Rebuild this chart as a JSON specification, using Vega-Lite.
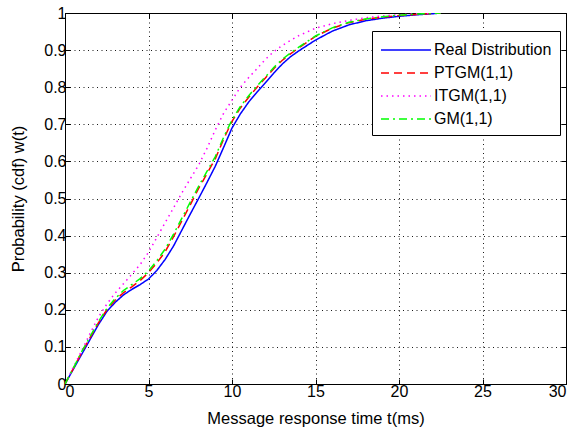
{
  "$schema": "https://vega.github.io/schema/vega-lite/v6.json",
  "autosize": "none",
  "width": 501,
  "height": 371,
  "padding": {"left": 65, "top": 13, "right": 9, "bottom": 51},
  "background": "white",
  "data": {"values": [
    {"s":"Real Distribution","t":0,"p":0},{"s":"Real Distribution","t":0.5,"p":0.04},{"s":"Real Distribution","t":1,"p":0.08},{"s":"Real Distribution","t":1.5,"p":0.12},{"s":"Real Distribution","t":2,"p":0.16},{"s":"Real Distribution","t":2.5,"p":0.195},{"s":"Real Distribution","t":3,"p":0.22},{"s":"Real Distribution","t":3.5,"p":0.24},{"s":"Real Distribution","t":4,"p":0.255},{"s":"Real Distribution","t":4.5,"p":0.268},{"s":"Real Distribution","t":5,"p":0.283},{"s":"Real Distribution","t":5.5,"p":0.306},{"s":"Real Distribution","t":6,"p":0.336},{"s":"Real Distribution","t":6.5,"p":0.372},{"s":"Real Distribution","t":7,"p":0.415},{"s":"Real Distribution","t":7.5,"p":0.458},{"s":"Real Distribution","t":8,"p":0.5},{"s":"Real Distribution","t":8.5,"p":0.543},{"s":"Real Distribution","t":9,"p":0.587},{"s":"Real Distribution","t":9.5,"p":0.638},{"s":"Real Distribution","t":10,"p":0.69},{"s":"Real Distribution","t":10.5,"p":0.728},{"s":"Real Distribution","t":11,"p":0.76},{"s":"Real Distribution","t":11.5,"p":0.787},{"s":"Real Distribution","t":12,"p":0.812},{"s":"Real Distribution","t":12.5,"p":0.838},{"s":"Real Distribution","t":13,"p":0.862},{"s":"Real Distribution","t":13.5,"p":0.882},{"s":"Real Distribution","t":14,"p":0.898},{"s":"Real Distribution","t":15,"p":0.927},{"s":"Real Distribution","t":16,"p":0.951},{"s":"Real Distribution","t":17,"p":0.968},{"s":"Real Distribution","t":18,"p":0.979},{"s":"Real Distribution","t":19,"p":0.986},{"s":"Real Distribution","t":20,"p":0.991},{"s":"Real Distribution","t":21,"p":0.995},{"s":"Real Distribution","t":22,"p":0.998},{"s":"Real Distribution","t":22.5,"p":1.0},
    {"s":"PTGM(1,1)","t":0,"p":0},{"s":"PTGM(1,1)","t":0.5,"p":0.042},{"s":"PTGM(1,1)","t":1,"p":0.085},{"s":"PTGM(1,1)","t":1.5,"p":0.125},{"s":"PTGM(1,1)","t":2,"p":0.165},{"s":"PTGM(1,1)","t":2.5,"p":0.2},{"s":"PTGM(1,1)","t":3,"p":0.226},{"s":"PTGM(1,1)","t":3.5,"p":0.246},{"s":"PTGM(1,1)","t":4,"p":0.262},{"s":"PTGM(1,1)","t":4.5,"p":0.279},{"s":"PTGM(1,1)","t":5,"p":0.3},{"s":"PTGM(1,1)","t":5.5,"p":0.326},{"s":"PTGM(1,1)","t":6,"p":0.357},{"s":"PTGM(1,1)","t":6.5,"p":0.397},{"s":"PTGM(1,1)","t":7,"p":0.44},{"s":"PTGM(1,1)","t":7.5,"p":0.483},{"s":"PTGM(1,1)","t":8,"p":0.527},{"s":"PTGM(1,1)","t":8.5,"p":0.567},{"s":"PTGM(1,1)","t":9,"p":0.607},{"s":"PTGM(1,1)","t":9.5,"p":0.66},{"s":"PTGM(1,1)","t":10,"p":0.708},{"s":"PTGM(1,1)","t":10.5,"p":0.744},{"s":"PTGM(1,1)","t":11,"p":0.773},{"s":"PTGM(1,1)","t":11.5,"p":0.8},{"s":"PTGM(1,1)","t":12,"p":0.825},{"s":"PTGM(1,1)","t":12.5,"p":0.85},{"s":"PTGM(1,1)","t":13,"p":0.872},{"s":"PTGM(1,1)","t":13.5,"p":0.89},{"s":"PTGM(1,1)","t":14,"p":0.906},{"s":"PTGM(1,1)","t":15,"p":0.937},{"s":"PTGM(1,1)","t":16,"p":0.959},{"s":"PTGM(1,1)","t":17,"p":0.974},{"s":"PTGM(1,1)","t":18,"p":0.983},{"s":"PTGM(1,1)","t":19,"p":0.989},{"s":"PTGM(1,1)","t":20,"p":0.993},{"s":"PTGM(1,1)","t":21,"p":0.996},{"s":"PTGM(1,1)","t":22,"p":0.999},{"s":"PTGM(1,1)","t":22.5,"p":1.0},
    {"s":"ITGM(1,1)","t":0,"p":0},{"s":"ITGM(1,1)","t":0.5,"p":0.045},{"s":"ITGM(1,1)","t":1,"p":0.09},{"s":"ITGM(1,1)","t":1.5,"p":0.136},{"s":"ITGM(1,1)","t":2,"p":0.18},{"s":"ITGM(1,1)","t":2.5,"p":0.215},{"s":"ITGM(1,1)","t":3,"p":0.245},{"s":"ITGM(1,1)","t":3.5,"p":0.27},{"s":"ITGM(1,1)","t":4,"p":0.296},{"s":"ITGM(1,1)","t":4.5,"p":0.322},{"s":"ITGM(1,1)","t":5,"p":0.355},{"s":"ITGM(1,1)","t":5.5,"p":0.395},{"s":"ITGM(1,1)","t":6,"p":0.435},{"s":"ITGM(1,1)","t":6.5,"p":0.475},{"s":"ITGM(1,1)","t":7,"p":0.515},{"s":"ITGM(1,1)","t":7.5,"p":0.553},{"s":"ITGM(1,1)","t":8,"p":0.59},{"s":"ITGM(1,1)","t":8.5,"p":0.635},{"s":"ITGM(1,1)","t":9,"p":0.685},{"s":"ITGM(1,1)","t":9.5,"p":0.73},{"s":"ITGM(1,1)","t":10,"p":0.765},{"s":"ITGM(1,1)","t":10.5,"p":0.8},{"s":"ITGM(1,1)","t":11,"p":0.826},{"s":"ITGM(1,1)","t":11.5,"p":0.85},{"s":"ITGM(1,1)","t":12,"p":0.875},{"s":"ITGM(1,1)","t":12.5,"p":0.896},{"s":"ITGM(1,1)","t":13,"p":0.912},{"s":"ITGM(1,1)","t":13.5,"p":0.926},{"s":"ITGM(1,1)","t":14,"p":0.939},{"s":"ITGM(1,1)","t":15,"p":0.959},{"s":"ITGM(1,1)","t":16,"p":0.971},{"s":"ITGM(1,1)","t":17,"p":0.98},{"s":"ITGM(1,1)","t":18,"p":0.987},{"s":"ITGM(1,1)","t":19,"p":0.992},{"s":"ITGM(1,1)","t":20,"p":0.995},{"s":"ITGM(1,1)","t":21,"p":0.998},{"s":"ITGM(1,1)","t":22,"p":1.0},
    {"s":"GM(1,1)","t":0,"p":0},{"s":"GM(1,1)","t":0.5,"p":0.043},{"s":"GM(1,1)","t":1,"p":0.087},{"s":"GM(1,1)","t":1.5,"p":0.128},{"s":"GM(1,1)","t":2,"p":0.168},{"s":"GM(1,1)","t":2.5,"p":0.203},{"s":"GM(1,1)","t":3,"p":0.23},{"s":"GM(1,1)","t":3.5,"p":0.252},{"s":"GM(1,1)","t":4,"p":0.268},{"s":"GM(1,1)","t":4.5,"p":0.284},{"s":"GM(1,1)","t":5,"p":0.305},{"s":"GM(1,1)","t":5.5,"p":0.332},{"s":"GM(1,1)","t":6,"p":0.364},{"s":"GM(1,1)","t":6.5,"p":0.404},{"s":"GM(1,1)","t":7,"p":0.447},{"s":"GM(1,1)","t":7.5,"p":0.49},{"s":"GM(1,1)","t":8,"p":0.533},{"s":"GM(1,1)","t":8.5,"p":0.573},{"s":"GM(1,1)","t":9,"p":0.613},{"s":"GM(1,1)","t":9.5,"p":0.665},{"s":"GM(1,1)","t":10,"p":0.712},{"s":"GM(1,1)","t":10.5,"p":0.748},{"s":"GM(1,1)","t":11,"p":0.777},{"s":"GM(1,1)","t":11.5,"p":0.803},{"s":"GM(1,1)","t":12,"p":0.828},{"s":"GM(1,1)","t":12.5,"p":0.853},{"s":"GM(1,1)","t":13,"p":0.875},{"s":"GM(1,1)","t":13.5,"p":0.892},{"s":"GM(1,1)","t":14,"p":0.908},{"s":"GM(1,1)","t":15,"p":0.938},{"s":"GM(1,1)","t":16,"p":0.96},{"s":"GM(1,1)","t":17,"p":0.975},{"s":"GM(1,1)","t":18,"p":0.984},{"s":"GM(1,1)","t":19,"p":0.99},{"s":"GM(1,1)","t":20,"p":0.994},{"s":"GM(1,1)","t":21,"p":0.997},{"s":"GM(1,1)","t":22,"p":0.999},{"s":"GM(1,1)","t":22.5,"p":1.0}
  ]},
  "layer": [
    {
      "mark": {"type": "line", "strokeWidth": 1.5, "clip": true},
      "encoding": {
        "x": {"field": "t", "type": "quantitative", "scale": {"domain": [0, 30], "nice": false},
          "axis": {"values": [0,5,10,15,20,25,30], "title": "Message response time t(ms)", "orient": "bottom", "titlePadding": 11}},
        "y": {"field": "p", "type": "quantitative", "scale": {"domain": [0, 1], "nice": false},
          "axis": {"values": [0,0.1,0.2,0.3,0.4,0.5,0.6,0.7,0.8,0.9,1], "format": "~g", "title": "Probability (cdf) w(t)", "orient": "left", "titlePadding": 17}},
        "color": {"field": "s", "type": "nominal", "title": null,
          "scale": {"domain": ["Real Distribution","PTGM(1,1)","ITGM(1,1)","GM(1,1)"], "range": ["#0000FF","#FF0000","#FF00FF","#00FF00"]}},
        "strokeDash": {"field": "s", "type": "nominal", "title": null,
          "scale": {"domain": ["Real Distribution","PTGM(1,1)","ITGM(1,1)","GM(1,1)"], "range": [[1,0],[8,5],[1.5,4],[8,4,2,4]]}},
        "order": {"field": "t", "type": "quantitative"}
      }
    },
    {
      "mark": {"type": "point", "opacity": 0},
      "encoding": {
        "x": {"field": "t", "type": "quantitative",
          "axis": {"orient": "top", "values": [0,5,10,15,20,25,30], "labels": false, "grid": false, "domain": false, "title": null}},
        "y": {"field": "p", "type": "quantitative",
          "axis": {"orient": "right", "values": [0,0.1,0.2,0.3,0.4,0.5,0.6,0.7,0.8,0.9,1], "labels": false, "grid": false, "domain": false, "title": null}}
      }
    }
  ],
  "resolve": {"axis": {"x": "independent", "y": "independent"}},
  "config": {
    "font": "Liberation Sans",
    "view": {"stroke": "black", "strokeWidth": 1},
    "axis": {
      "grid": true, "gridColor": "#000000", "gridDash": [1, 3.5], "gridWidth": 1, "gridOpacity": 0.9,
      "domainColor": "#000000", "domainWidth": 1,
      "tickColor": "#000000", "tickSize": -5, "tickWidth": 1,
      "labelFontSize": 16, "labelColor": "#000000", "labelPadding": 4,
      "titleFontSize": 16.5, "titleFontWeight": "normal", "titleColor": "#000000"
    },
    "legend": {
      "orient": "none", "legendX": 307, "legendY": 18,
      "strokeColor": "#000000", "fillColor": "white", "padding": 8,
      "symbolType": "M-1,0H4", "symbolSize": 400, "symbolStrokeWidth": 1.5,
      "labelFontSize": 16, "labelColor": "#000000", "rowPadding": 4, "labelOffset": 32
    }
  }
}
